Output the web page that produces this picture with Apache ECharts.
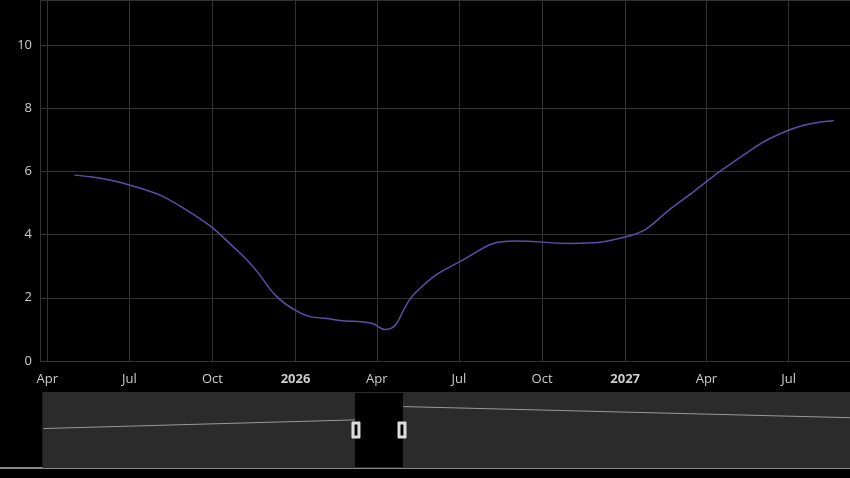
<!DOCTYPE html>
<html>
<head>
<meta charset="utf-8">
<script src="https://cdn.jsdelivr.net/npm/echarts@6/dist/echarts.min.js"></script>
<style>html,body{margin:0;background:#000}#main{width:850px;height:478px}</style>
</head>
<body>
<div id="main"></div>
<script>
// dates and values of the line
var dates = ['2009-04-01', '2025-03-01', '2025-05-01', '2025-07-01', '2025-09-01', '2025-11-01',
  '2026-01-01', '2026-02-15', '2026-03-25', '2026-04-10', '2026-05-15', '2026-07-01',
  '2026-09-01', '2026-11-01', '2027-01-01', '2027-03-01', '2027-05-01', '2027-07-01',
  '2027-08-20', '2027-10-01', '2050-09-01'];
var values = [4.5, 5.7, 5.88, 5.57, 4.8, 3.4, 1.6, 1.3, 1.2, 1.0, 2.2, 3.13,
  3.8, 3.72, 3.92, 5.0, 6.3, 7.3, 7.6, 7.55, 6.0];
var yTicks = [0, 2, 4, 6, 8, 10];

var myChart = echarts.init(document.getElementById('main'));
myChart.setOption({
  backgroundColor: '#000',
  animation: false,
  grid: { left: 40, right: 0, top: 0, bottom: 117 },
  xAxis: {
    type: 'time',
    axisLine: { show: false },
    axisTick: { show: false },
    splitLine: { show: true, lineStyle: { color: '#333' } },
    axisLabel: { color: '#ccc', fontSize: 13, fontFamily: 'Open Sans', margin: 12 }
  },
  yAxis: {
    type: 'value',
    min: 0,
    max: 11.42,
    interval: 2,
    axisLine: { show: false },
    splitLine: { lineStyle: { color: '#333' } },
    axisLabel: {
      color: '#ccc', fontSize: 13, fontFamily: 'Open Sans',
      formatter: function (v) { return yTicks.indexOf(v) >= 0 ? v : ''; }
    }
  },
  dataZoom: [{
    type: 'slider',
    startValue: '2025-03-24',
    endValue: '2027-09-07',
    left: 40, right: 0, top: 392, height: 76,
    backgroundColor: '#2b2b2b',
    fillerColor: '#000',
    borderColor: '#2b2b2b',
    showDetail: false,
    brushSelect: false,
    moveHandleSize: 0,
    handleIcon: 'path://M0,0 h8 v16 h-8 z M2,2 v12 h4 v-12 z',
    handleSize: 16,
    handleStyle: { color: '#ddd', borderColor: '#ddd' },
    dataBackground: { lineStyle: { color: '#999', width: 1 }, areaStyle: { opacity: 0 } },
    selectedDataBackground: { lineStyle: { color: '#999', width: 1 }, areaStyle: { opacity: 0 } }
  }],
  graphic: [{ type: 'rect', shape: { x: 0, y: 467, width: 850, height: 2 }, style: { fill: '#888' } }],
  series: [{
    type: 'line',
    smooth: true,
    showSymbol: false,
    lineStyle: { color: '#5b4ea6', width: 1.5 },
    data: dates.map(function (d, i) { return [d, values[i]]; })
  }]
});
</script>
</body>
</html>
